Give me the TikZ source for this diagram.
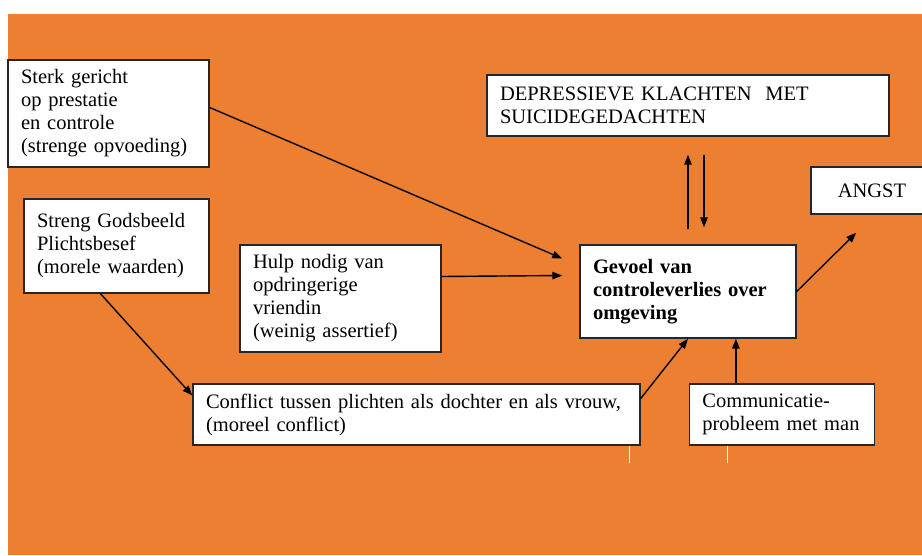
\documentclass[tikz,border=0pt]{standalone}
\usepackage{fontspec}
\setmainfont{Liberation Serif}
\usetikzlibrary{positioning,arrows.meta,calc}
\definecolor{bgorange}{RGB}{237,127,51}

\begin{document}
\begin{tikzpicture}[
  x=1pt, y=-1pt,
  font=\fontsize{20.5}{23}\selectfont,
  box/.style={draw=black!85, line width=1.4pt, fill=white, align=left,
              inner xsep=13pt, inner ysep=2pt},
  arr/.style={-{Triangle[length=10pt,width=7.5pt]}, line width=1.4pt},
]
\useasboundingbox (0,0) rectangle (922,555);
\fill[white] (0,0) rectangle (922,555);
\fill[bgorange] (8,14) rectangle (922,555);
\node[box, text width=175pt, minimum height=107pt] (sterk) at (108.5,113.5) {Sterk gericht\\ op prestatie\\ en controle\\ (strenge opvoeding)};
\node[box, text width=159pt, minimum height=94pt] (streng) at (116.5,246) {Streng Godsbeeld\\ Plichtsbesef\\ (morele waarden)};
\node[box, text width=175pt, minimum height=107pt] (hulp) at (340.5,298.5) {Hulp nodig van\\ opdringerige\\ vriendin\\ (weinig assertief)};
\node[box, text width=421pt, minimum height=61pt] (conflict) at (416.5,414.5) {Conflict tussen plichten als dochter en als vrouw,\\ (moreel conflict)};
\node[box, text width=159pt, minimum height=61pt, right=48pt of conflict] (comm) {Communicatie-\\ probleem met man};
\node[box, text width=190pt, minimum height=93pt, font={\fontsize{20.5}{23}\selectfont\bfseries}] (gevoel) at (688,291.5) {Gevoel van\\ controleverlies over\\ omgeving};
\node[box, text width=376pt, minimum height=61pt] (depr) at (688,105.5) {DEPRESSIEVE KLACHTEN~ MET\\ SUICIDEGEDACHTEN};
\node[box, minimum width=122pt, minimum height=47pt] (angst) at (872,190.5) {ANGST};
% connectors
\draw[arr] ([yshift=6pt]sterk.east) -- ($(gevoel.west)+(-17,-33)$);
\draw[arr] ([yshift=22pt]hulp.east) -- ($(gevoel.west)+(-17,-16)$);
\draw[arr] ([xshift=-16pt]streng.south) -- ([yshift=19pt]conflict.west);
\draw[arr] ([yshift=16pt]conflict.east) -- (gevoel.south);
\draw[arr] ([xshift=-46pt]comm.north) -- ([xshift=-46pt]comm.north |- gevoel.south);
\draw[arr] (gevoel.east) -- ($(angst.south west)+(46,18)$);
\draw[arr] ([yshift=15pt]gevoel.north) -- ([yshift=-18pt]depr.south);
\draw[arr] ([xshift=16pt,yshift=-18pt]depr.south) -- ([xshift=16pt,yshift=17pt]gevoel.north);
% white marks below the boxes
\draw[white, line width=0.8pt] ([xshift=-11pt]conflict.south east) -- ++(0,17);
\draw[white, line width=0.8pt] ([xshift=39pt]comm.south west) -- ++(0,17);
\end{tikzpicture}
\end{document}
